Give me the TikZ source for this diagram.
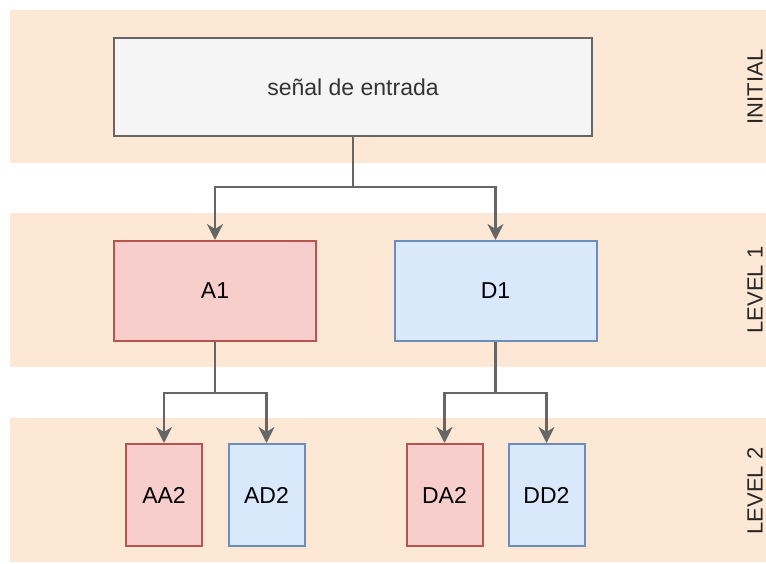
\documentclass[tikz,border=0pt]{standalone}
\usepackage{fontspec}
\setmainfont{Liberation Sans}
\usetikzlibrary{arrows.meta}
\definecolor{bandfill}{RGB}{253,232,214}
\definecolor{grayfill}{RGB}{245,245,245}
\definecolor{grayline}{RGB}{102,102,102}
\definecolor{redfill}{RGB}{248,206,204}
\definecolor{redline}{RGB}{184,84,80}
\definecolor{bluefill}{RGB}{218,232,252}
\definecolor{blueline}{RGB}{108,142,191}
\begin{document}
\begin{tikzpicture}[x=1pt, y=-1pt, every node/.style={font=\fontsize{23}{28}\selectfont},
  band/.style={fill=bandfill,draw=none},
  lvl/.style={rotate=90,font=\fontsize{22}{26}\selectfont,text=black!85},
  blk/.style={draw,line width=2pt,minimum width=#1pt,align=center},
  apx/.style={blk=202,fill=redfill,draw=redline,minimum height=100pt},
  dtl/.style={blk=202,fill=bluefill,draw=blueline,minimum height=100pt},
  conn/.style={draw=grayline,line width=2.2pt,-{Stealth[length=16pt,width=16pt,inset=5pt]}}]
\useasboundingbox (0,0) rectangle (766,564);
% levels
\fill[band] (10,10) rectangle (766,163);
\fill[band] (10,213) rectangle (766,367);
\fill[band] (10,418) rectangle (766,562);
\node[lvl] (lvl0) at (755,87) {INITIAL};
\node[lvl] (lvl1) at (755,290) {LEVEL 1};
\node[lvl] (lvl2) at (755,491) {LEVEL 2};
% input signal
\node[blk=478,fill=grayfill,draw=grayline,minimum height=98pt,text=black!80] (inp) at (353,87) {señal de entrada};
% first decomposition
\node[apx] (a1) at (215,291) {A1};
\node[dtl] (d1) at (495.5,291) {D1};
% second decomposition
\node[apx,minimum width=76pt,minimum height=102pt] (aa2) at (164,495) {AA2};
\node[dtl,minimum width=76pt,minimum height=102pt] (ad2) at (266.5,495) {AD2};
\node[apx,minimum width=76pt,minimum height=102pt] (da2) at (444.5,495) {DA2};
\node[dtl,minimum width=76pt,minimum height=102pt] (dd2) at (546.5,495) {DD2};
\coordinate (s0) at (353,187);
\coordinate (s1) at (215,393);
\coordinate (s2) at (495.5,393);
\draw[conn,-] (inp) -- (s0);
\draw[conn] (s0) -| (a1);
\draw[conn] (s0) -| (d1);
\draw[conn,-] (a1) -- (s1);
\draw[conn] (s1) -| (aa2);
\draw[conn] (s1) -| (ad2);
\draw[conn,-] (d1) -- (s2);
\draw[conn] (s2) -| (da2);
\draw[conn] (s2) -| (dd2);
\end{tikzpicture}
\end{document}
